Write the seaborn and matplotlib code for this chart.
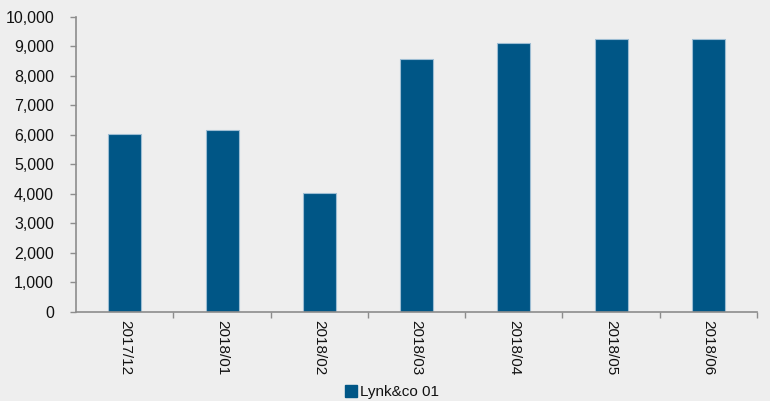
import pandas as pd
import seaborn as sns
import matplotlib.pyplot as plt
from matplotlib.ticker import FuncFormatter, FixedLocator

# %% data
months = ["2017/12", "2018/01", "2018/02", "2018/03", "2018/04", "2018/05", "2018/06"]
sales = [6020, 6180, 4040, 8560, 9100, 9250, 9250]
series_name = "Lynk&co 01"

df = pd.DataFrame({"month": months, "sales": sales})

# %% plot
sns.set_theme(style="white")
plt.rcParams["font.family"] = ["Liberation Sans", "DejaVu Sans"]
bg = "#eeeeee"
bar_color = "#005686"
axis_color = "#8c8c8c"

fig = plt.figure(figsize=(7.7, 4.01), dpi=100, facecolor=bg)
ax = fig.add_axes([0.099, 0.222, 0.884, 0.736], facecolor=bg)

sns.barplot(data=df, x="month", y="sales", color=bar_color, saturation=1,
            width=0.34, edgecolor="#9dbdd3", linewidth=0.8, label=series_name, ax=ax)
if ax.get_legend() is not None:
    ax.get_legend().remove()

ax.set_xlim(-0.5, len(months) - 0.5)
ax.set_ylim(0, 10000)
ax.set_yticks(range(0, 10001, 1000))
ax.yaxis.set_major_formatter(FuncFormatter(lambda v, p: f"{int(v):,}"))
ax.set_xlabel("")
ax.set_ylabel("")

for side in ["top", "right"]:
    ax.spines[side].set_visible(False)
for side in ["left", "bottom"]:
    ax.spines[side].set_color(axis_color)
    ax.spines[side].set_linewidth(1.2)

ax.tick_params(axis="y", which="major", left=True, length=4, width=1,
               color=axis_color, labelsize=11.5, labelcolor="#111111", pad=12)
ax.tick_params(axis="x", which="major", bottom=False, labelsize=11,
               labelcolor="#111111", pad=0)
ax.xaxis.set_minor_locator(FixedLocator([i + 0.5 for i in range(len(months))]))
ax.tick_params(axis="x", which="minor", bottom=True, length=4, width=1, color=axis_color)
for lbl in ax.get_xticklabels():
    lbl.set_rotation(270)
    lbl.set_ha("center")
    lbl.set_va("top")

handles = [plt.Rectangle((0, 0), 1, 1, color=bar_color)]
leg = fig.legend(handles, [series_name], loc="center",
                 bbox_to_anchor=(392 / 770, 1 - 392 / 401), frameon=False,
                 fontsize=11, handlelength=0.8, handleheight=0.8, handletextpad=0.2,
                 borderaxespad=0, borderpad=0)
for t in leg.get_texts():
    t.set_color("#111111")

fig.savefig("out.png", dpi=100, facecolor=bg)
